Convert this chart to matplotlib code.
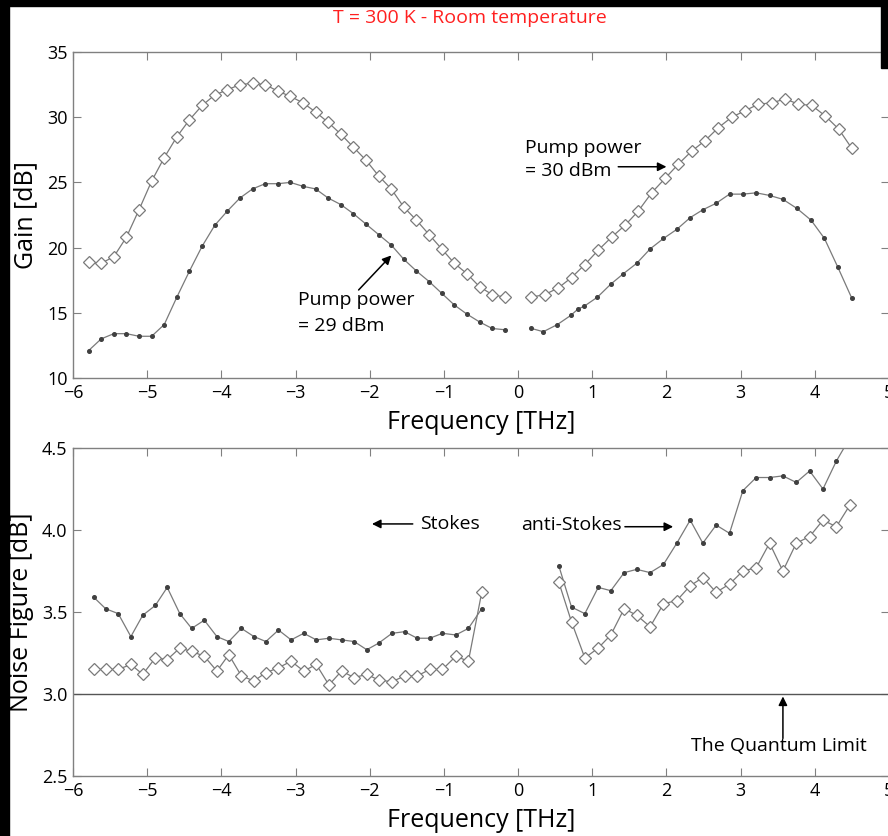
import matplotlib
matplotlib.use("Agg")
import matplotlib.pyplot as plt
from matplotlib.patches import Rectangle

# ---- data ----
f_left = [-5.79, -5.62, -5.45, -5.28, -5.11, -4.94, -4.77, -4.60, -4.43, -4.26,
          -4.09, -3.92, -3.75, -3.58, -3.41, -3.24, -3.07, -2.90, -2.73, -2.56,
          -2.39, -2.22, -2.05, -1.88, -1.71, -1.54, -1.37, -1.20, -1.03, -0.86,
          -0.69, -0.52, -0.35, -0.18]
gain30_left = [18.9, 18.8, 19.3, 20.8, 22.9, 25.1, 26.9, 28.5, 29.8, 30.9,
               31.7, 32.1, 32.5, 32.6, 32.5, 32.0, 31.6, 31.1, 30.4, 29.6,
               28.7, 27.7, 26.7, 25.5, 24.5, 23.1, 22.1, 21.0, 19.9, 18.8,
               18.0, 17.0, 16.4, 16.2]
gain29_left = [12.1, 13.0, 13.4, 13.4, 13.2, 13.2, 14.1, 16.2, 18.2, 20.1,
               21.7, 22.8, 23.8, 24.5, 24.9, 24.9, 25.0, 24.7, 24.5, 23.8,
               23.3, 22.6, 21.8, 21.0, 20.2, 19.1, 18.2, 17.4, 16.5, 15.6,
               14.9, 14.3, 13.8, 13.7]

f30_right = [0.18, 0.36, 0.54, 0.72, 0.90, 1.08, 1.26, 1.44, 1.62, 1.80,
             1.98, 2.16, 2.34, 2.52, 2.70, 2.88, 3.06, 3.24, 3.42, 3.60,
             3.78, 3.96, 4.14, 4.32, 4.50]
gain30_right = [16.2, 16.4, 16.9, 17.7, 18.7, 19.8, 20.8, 21.7, 22.8, 24.2,
                25.3, 26.4, 27.4, 28.2, 29.2, 30.0, 30.5, 31.0, 31.1, 31.4,
                31.0, 30.9, 30.1, 29.1, 27.6]
f29_right = [0.18, 0.34, 0.53, 0.71, 0.81, 0.89, 1.07, 1.25, 1.42, 1.60,
             1.78, 1.96, 2.14, 2.32, 2.49, 2.67, 2.85, 3.03, 3.21, 3.39,
             3.57, 3.76, 3.95, 4.13, 4.31, 4.50]
gain29_right = [13.8, 13.55, 14.1, 14.8, 15.3, 15.5, 16.2, 17.2, 18.0, 18.8,
                19.9, 20.7, 21.4, 22.3, 22.9, 23.4, 24.1, 24.1, 24.2, 24.0,
                23.7, 23.0, 22.1, 20.7, 18.5, 16.1]

f_nf_left = [-5.72, -5.56, -5.39, -5.22, -5.06, -4.89, -4.73, -4.56, -4.40, -4.23,
             -4.06, -3.90, -3.73, -3.56, -3.40, -3.23, -3.06, -2.89, -2.72, -2.55,
             -2.38, -2.21, -2.04, -1.88, -1.70, -1.53, -1.36, -1.19, -1.02, -0.84,
             -0.67, -0.49]
nf29_left = [3.59, 3.52, 3.49, 3.35, 3.48, 3.54, 3.65, 3.49, 3.40, 3.45,
             3.35, 3.32, 3.40, 3.35, 3.32, 3.39, 3.33, 3.37, 3.33, 3.34,
             3.33, 3.32, 3.27, 3.31, 3.37, 3.38, 3.34, 3.34, 3.37, 3.36,
             3.40, 3.52]
nf30_left = [3.15, 3.15, 3.15, 3.18, 3.12, 3.22, 3.21, 3.28, 3.26, 3.23,
             3.14, 3.24, 3.11, 3.08, 3.13, 3.16, 3.20, 3.14, 3.18, 3.055,
             3.14, 3.10, 3.12, 3.085, 3.075, 3.11, 3.11, 3.15, 3.15, 3.23,
             3.20, 3.62]

f_nf_right = [0.55, 0.72, 0.90, 1.08, 1.25, 1.43, 1.60, 1.78, 1.96, 2.14,
              2.32, 2.49, 2.67, 2.85, 3.03, 3.21, 3.39, 3.57, 3.75, 3.93,
              4.11, 4.29, 4.47]
nf29_right = [3.78, 3.53, 3.49, 3.65, 3.63, 3.74, 3.76, 3.74, 3.79, 3.92,
              4.06, 3.92, 4.03, 3.98, 4.24, 4.32, 4.32, 4.33, 4.29, 4.36,
              4.25, 4.42, 4.56]
nf30_right = [3.68, 3.44, 3.22, 3.28, 3.36, 3.52, 3.48, 3.41, 3.55, 3.57,
              3.66, 3.71, 3.62, 3.67, 3.75, 3.77, 3.92, 3.75, 3.92, 3.96,
              4.06, 4.02, 4.15]

quantum_limit = 3.0

# ---- style ----
plt.rcParams['font.family'] = ['Open Sans', 'DejaVu Sans']
line_c = '#7a7a7a'
spine_c = '#808080'
diam = dict(color=line_c, lw=0.9, marker='D', ms=5.8, mfc='white', mec='#7a7a7a', mew=0.9)
dots = dict(color=line_c, lw=0.9, marker='o', ms=2.6, mfc='#404040', mec='#404040')
arrow = dict(arrowstyle='-|>', color='k', lw=1.1, mutation_scale=13, shrinkA=0, shrinkB=0)
ann_fs = 14

fig = plt.figure(figsize=(8.88, 8.36), dpi=100)

def setup(ax, ylim, yticks, fmt):
    ax.set_xlim(-6, 5)
    ax.set_ylim(*ylim)
    ax.set_xticks(range(-6, 6))
    ax.set_yticks(yticks)
    ax.set_yticklabels([fmt.format(v) for v in yticks])
    ax.set_xticklabels([str(v).replace('-', '\u2212') for v in range(-6, 6)])
    ax.tick_params(direction='in', top=True, right=True, length=6, width=0.8,
                   color=spine_c, labelsize=13, pad=4)
    for s in ax.spines.values():
        s.set_color(spine_c)
        s.set_linewidth(1.0)
    ax.set_xlabel('Frequency [THz]', fontsize=18, labelpad=6)

# top: gain
ax1 = fig.add_axes([73/888, 1-378/836, 816/888, 326/836])
ax1.plot(f_left, gain30_left, **diam)
ax1.plot(f30_right, gain30_right, **diam)
ax1.plot(f_left, gain29_left, **dots)
ax1.plot(f29_right, gain29_right, **dots)
setup(ax1, (10, 35), [10, 15, 20, 25, 30, 35], '{:d}')
ax1.set_ylabel('Gain [dB]', fontsize=18, labelpad=6)

ax1.text(0.09, 27.6, 'Pump power', fontsize=ann_fs, va='center')
ax1.text(0.09, 25.9, '= 30 dBm', fontsize=ann_fs, va='center')
ax1.annotate('', xy=(2.0, 26.2), xytext=(1.35, 26.2), arrowprops=arrow)
ax1.text(-2.97, 16.0, 'Pump power', fontsize=ann_fs, va='center')
ax1.text(-2.97, 14.0, '= 29 dBm', fontsize=ann_fs, va='center')
ax1.annotate('', xy=(-1.71, 19.4), xytext=(-2.15, 16.75), arrowprops=arrow)

# bottom: noise figure
ax2 = fig.add_axes([73/888, 1-776/836, 816/888, 328/836])
ax2.axhline(quantum_limit, color='#555555', lw=1.0)
ax2.plot(f_nf_left, nf29_left, **dots)
ax2.plot(f_nf_right, nf29_right, **dots)
ax2.plot(f_nf_left, nf30_left, **diam)
ax2.plot(f_nf_right, nf30_right, **diam)
setup(ax2, (2.5, 4.5), [2.5, 3.0, 3.5, 4.0, 4.5], '{:.1f}')
ax2.set_ylabel('Noise Figure [dB]', fontsize=18, labelpad=6)

ax2.text(-1.32, 4.037, 'Stokes', fontsize=ann_fs, va='center')
ax2.annotate('', xy=(-1.97, 4.037), xytext=(-1.42, 4.037), arrowprops=arrow)
ax2.text(0.04, 4.03, 'anti-Stokes', fontsize=ann_fs, va='center')
ax2.annotate('', xy=(2.09, 4.02), xytext=(1.44, 4.02), arrowprops=arrow)
ax2.text(3.52, 2.68, 'The Quantum Limit', fontsize=ann_fs, va='center', ha='center')
ax2.annotate('', xy=(3.57, 2.985), xytext=(3.57, 2.73), arrowprops=arrow)

fig.text(470/888, 1-18/836, 'T = 300 K - Room temperature', color='#ff2020',
         fontsize=14, ha='center', va='center')

# black frame pieces from the original screenshot crop
fig.patches.append(Rectangle((0, 0), 9/888, 1, transform=fig.transFigure, color='black', zorder=10))
fig.patches.append(Rectangle((0, 1-6/836), 1, 6/836, transform=fig.transFigure, color='black', zorder=10))
fig.patches.append(Rectangle((1-7/888, 1-68/836), 7/888, 68/836, transform=fig.transFigure, color='black', zorder=10))

fig.savefig('out.png', dpi=100)
